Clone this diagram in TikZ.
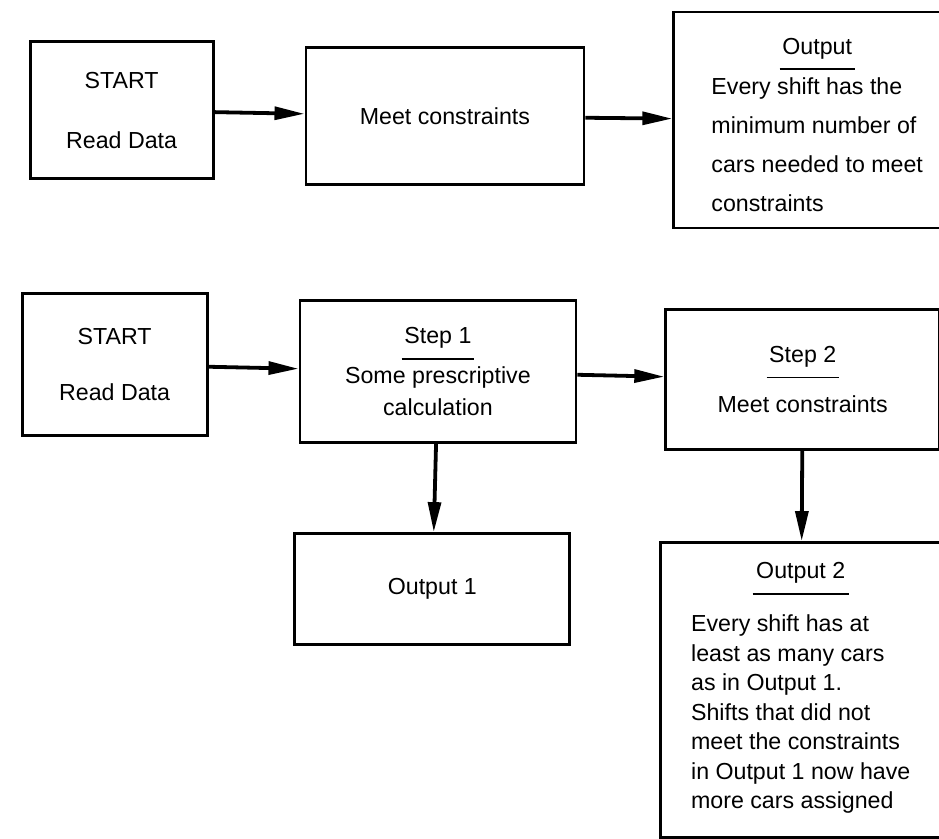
\documentclass[tikz,border=0pt]{standalone}
\usepackage{fontspec}
\setmainfont{Liberation Sans}
\usetikzlibrary{positioning, arrows.meta}
\tikzset{
  stage/.style={rectangle, draw=black, line width=2pt, align=center, inner sep=0pt, font=\fontsize{16.5}{21}\selectfont},
  arrow/.style={line width=2.7pt, -{Triangle[length=7.5mm, width=3.2mm]}},
}
\newcommand{\boxhead}[1]{\setbox0=\hbox{#1}\vtop{\hbox{#1}\nointerlineskip\kern6.5pt\hbox to\wd0{\hss\vrule width 1.08\wd0 height 1.4pt\hss}}}

\begin{document}
\begin{tikzpicture}[node distance=2.25cm and 2.25cm]
  \useasboundingbox (0,0) rectangle (23.475,-20.95);
  \clip (0,0) rectangle (23.475,-20.95);

  % first scheme
  \node[stage, minimum width=4.575cm, minimum height=3.425cm] (start1) at (3.04,-2.76) {START\\[22pt]Read Data};

  \node[stage, right=2.25cm of start1, yshift=-0.15cm, minimum width=6.95cm, minimum height=3.425cm] (meet1) {Meet constraints};

  \node[stage, right=2.175cm of meet1, yshift=-0.09cm, minimum width=7.175cm, minimum height=5.4cm] (out0) {\rule{0pt}{27pt}\boxhead{Output}\\[-3.5pt]\renewcommand{\arraystretch}{1.33}\begin{tabular}[t]{@{}l@{}}Every shift has the\\minimum number of\\cars needed to meet\\constraints\end{tabular}};

  % second scheme
  \node[stage, below=2.8cm of start1, xshift=-0.175cm, minimum width=4.625cm, minimum height=3.55cm] (start2) {START\\[19pt]Read Data};

  \node[stage, right=2.25cm of start2, yshift=-0.175cm, minimum width=6.9cm, minimum height=3.55cm] (step1) {\boxhead{Step 1}\\[4pt]Some prescriptive\\[2pt]calculation};

  \node[stage, right=2.175cm of step1, yshift=-0.2cm, minimum width=6.85cm, minimum height=3.5cm] (step2) {\boxhead{Step 2}\\[11.5pt]Meet constraints};

  \node[stage, below=2.2cm of step1, xshift=-0.14cm, minimum width=6.875cm, minimum height=2.775cm] (out1) {Output 1};

  \node[stage, below=2.25cm of step2, xshift=-0.05cm, minimum width=7cm, minimum height=7.375cm] (out2) {\boxhead{Output 2}\\[10.5pt]\begin{tabular}[t]{@{}l@{}}Every shift has at\\least as many cars\\as in Output 1.\\Shifts that did not\\meet the constraints\\in Output 1 now have\\more cars assigned\end{tabular}};

  \draw[arrow] (start1) -- (meet1);
  \draw[arrow] (meet1) -- (out0);
  \draw[arrow] (start2) -- (step1);
  \draw[arrow] (step1) -- (step2);
  \draw[arrow] (step1) -- (out1);
  \draw[arrow] (step2) -- (out2);
\end{tikzpicture}
\end{document}
